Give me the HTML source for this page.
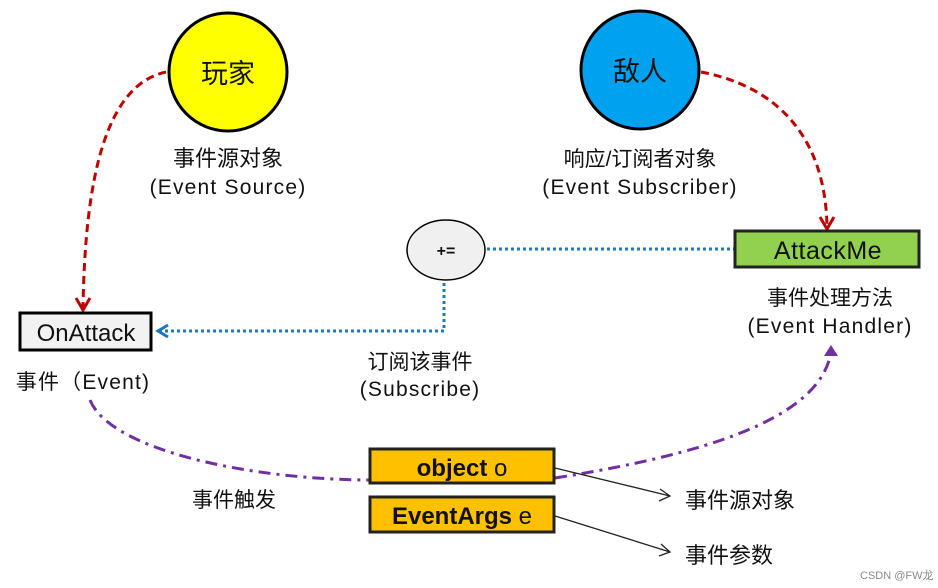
<!DOCTYPE html>
<html><head><meta charset="utf-8"><style>
html,body{margin:0;padding:0;background:#fff;}
svg{display:block;}
text{font-family:"Liberation Sans","Noto Sans CJK SC",sans-serif;fill:#111;}
.l{letter-spacing:1.2px;}
</style></head><body>
<svg width="938" height="588" viewBox="0 0 938 588" xmlns="http://www.w3.org/2000/svg">
<circle cx="228" cy="72" r="59" fill="#ffff00" stroke="#000" stroke-width="3"/>
<text x="228" y="83" font-size="27" text-anchor="middle">玩家</text>
<circle cx="640" cy="70" r="59" fill="#00a2f0" stroke="#000" stroke-width="3"/>
<text x="640" y="81" font-size="27" text-anchor="middle">敌人</text>
<text x="228" y="166" font-size="22" text-anchor="middle">事件源对象</text>
<text x="228" y="194" font-size="21" text-anchor="middle" class="l">(Event Source)</text>
<text x="640" y="166" font-size="21" text-anchor="middle">响应/订阅者对象</text>
<text x="640" y="194" font-size="21" text-anchor="middle" class="l">(Event Subscriber)</text>
<path d="M166 72 C 105 85, 85 180, 83 308" fill="none" stroke="#c00000" stroke-width="3" stroke-dasharray="8 5"/>
<path d="M76 298 L83 310 L90 298" fill="none" stroke="#c00000" stroke-width="3"/>
<path d="M701 72 C 770 85, 825 130, 827 226" fill="none" stroke="#c00000" stroke-width="3" stroke-dasharray="8 5"/>
<path d="M820 217 L827 229 L834 217" fill="none" stroke="#c00000" stroke-width="3"/>
<ellipse cx="446" cy="250" rx="39" ry="30" fill="#f0f0f0" stroke="#000" stroke-width="1.5"/>
<text x="446" y="256" font-size="16" text-anchor="middle" font-weight="bold">+=</text>
<path d="M487 249 L734 249" stroke="#1f77c0" stroke-width="3" stroke-dasharray="3 3" fill="none"/>
<path d="M444 283 L444 331 L160 331" stroke="#1f77c0" stroke-width="3" stroke-dasharray="3 3" fill="none"/>
<path d="M168 325 L158 331 L168 337" stroke="#1f77c0" stroke-width="3" fill="none"/>
<rect x="20" y="313" width="131" height="37" fill="#f2f2f2" stroke="#000" stroke-width="3"/>
<text x="86" y="341" font-size="24" text-anchor="middle">OnAttack</text>
<text x="83" y="389" font-size="21" text-anchor="middle" class="l">事件（Event)</text>
<rect x="735" y="231" width="184" height="36" fill="#92d050" stroke="#222" stroke-width="3"/>
<text x="828" y="259" font-size="25" text-anchor="middle" style="letter-spacing:0.5px">AttackMe</text>
<text x="830" y="305" font-size="21" text-anchor="middle">事件处理方法</text>
<text x="830" y="333" font-size="21" text-anchor="middle" class="l">(Event Handler)</text>
<text x="420" y="369" font-size="21" text-anchor="middle">订阅该事件</text>
<text x="420" y="396" font-size="21" text-anchor="middle" class="l">(Subscribe)</text>
<path d="M90 400 C 110 450, 250 480, 372 480" fill="none" stroke="#7030a0" stroke-width="3" stroke-dasharray="12 6 3 6"/>
<path d="M555 478 C 700 455, 820 420, 831 352" fill="none" stroke="#7030a0" stroke-width="3" stroke-dasharray="12 6 3 6"/>
<path d="M824 356 L831 345 L838 356 Z" fill="#7030a0"/>
<rect x="370" y="449" width="184" height="34" fill="#ffc000" stroke="#222" stroke-width="3"/>
<text x="462" y="476" font-size="24" text-anchor="middle"><tspan font-weight="bold">object</tspan> o</text>
<rect x="370" y="497" width="184" height="35" fill="#ffc000" stroke="#222" stroke-width="3"/>
<text x="462" y="524" font-size="24" text-anchor="middle"><tspan font-weight="bold">EventArgs</tspan> e</text>
<path d="M555 468 L670 496 M660 489 L670 496 L659 501" stroke="#222" stroke-width="1.3" fill="none"/>
<path d="M555 516 L670 552 M661 544 L670 552 L659 556" stroke="#222" stroke-width="1.3" fill="none"/>
<text x="685" y="508" font-size="22">事件源对象</text>
<text x="685" y="563" font-size="22">事件参数</text>
<text x="234" y="507" font-size="21" text-anchor="middle">事件触发</text>
<text x="860" y="579" font-size="11" style="fill:#888">CSDN @FW龙</text>
</svg>
</body></html>
